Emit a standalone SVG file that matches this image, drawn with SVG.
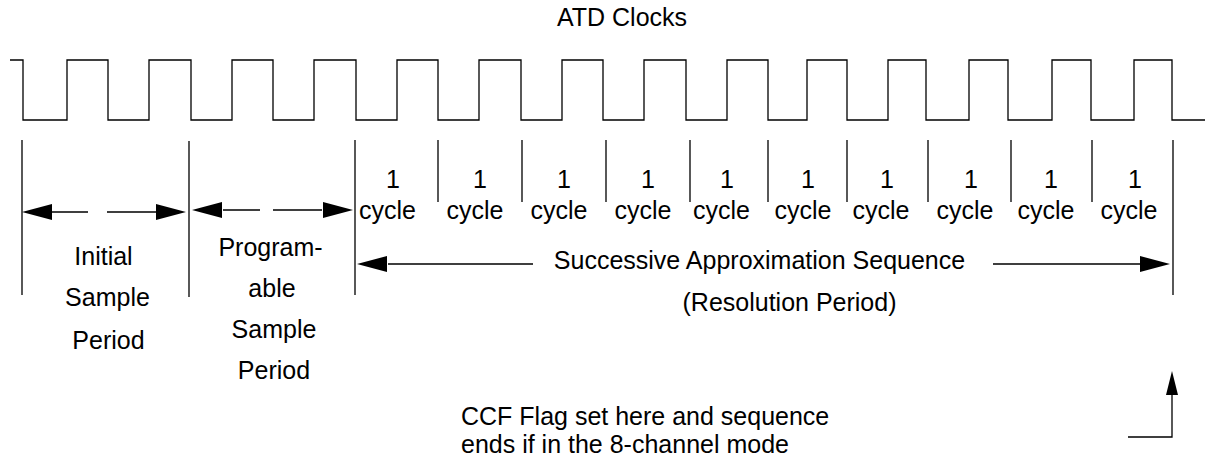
<svg xmlns="http://www.w3.org/2000/svg" width="1207" height="466" viewBox="0 0 1207 466">
<style>
.ln{stroke:#000;stroke-width:1.3;fill:none}
.t{font-family:"Liberation Sans",Arial,sans-serif;font-size:25px;fill:#000}
.m{text-anchor:middle}
.ah{fill:#000;stroke:none}
</style>
<rect width="1207" height="466" fill="#fff"/>
<text class="t m" x="622" y="26">ATD Clocks</text>
<g id="clock">
<path class="ln" d="M10,60 H23 V120 H67 V60 H108 V120 H149 V60 H191 V120 H232 V60 H273 V120 H314 V60 H356 V120 H397 V60 H438 V120 H479 V60 H521 V120 H562 V60 H603 V120 H644 V60 H686 V120 H727 V60 H768 V120 H807 V60 H847 V120 H888 V60 H926 V120 H969 V60 H1008 V120 H1052 V60 H1091 V120 H1134 V60 H1172 V120 H1205"/>
</g>
<g id="markers">
<path class="ln" d="M22,140 V295 M189,141 V297 M355,140 V295 M1173,140 V295"/>
<path class="ln" d="M438,140 V202 M522,140 V202 M606,140 V202 M690,140 V202 M768,140 V202 M847,140 V202 M928,140 V202 M1011,140 V202 M1092,140 V202"/>
</g>
<g id="connectors">
<path class="ln" d="M52,212 H88 M107,212 H157"/>
<polygon class="ah" points="22,212 52,204 52,220"/>
<polygon class="ah" points="186,212 156,204 156,220"/>
<path class="ln" d="M223,210 H260 M273,210 H322"/>
<polygon class="ah" points="192,210 222,202 222,218"/>
<polygon class="ah" points="353,210 323,202 323,218"/>
<path class="ln" d="M388,264 H533 M993,264 H1140"/>
<polygon class="ah" points="357,264 387,256 387,272"/>
<polygon class="ah" points="1170,264 1140,256 1140,272"/>
<path class="ln" d="M1128,437 H1172 V394"/>
<polygon class="ah" points="1172,371 1166,395 1178,395"/>
</g>
<g id="cycles">
<text class="t m" x="393" y="188">1</text><text class="t m" x="387.5" y="219">cycle</text>
<text class="t m" x="480" y="188">1</text><text class="t m" x="475" y="219">cycle</text>
<text class="t m" x="564" y="188">1</text><text class="t m" x="559" y="219">cycle</text>
<text class="t m" x="648" y="188">1</text><text class="t m" x="643" y="219">cycle</text>
<text class="t m" x="727" y="188">1</text><text class="t m" x="721.5" y="219">cycle</text>
<text class="t m" x="808" y="188">1</text><text class="t m" x="803" y="219">cycle</text>
<text class="t m" x="887" y="188">1</text><text class="t m" x="881" y="219">cycle</text>
<text class="t m" x="971" y="188">1</text><text class="t m" x="965" y="219">cycle</text>
<text class="t m" x="1051" y="188">1</text><text class="t m" x="1046" y="219">cycle</text>
<text class="t m" x="1135" y="188">1</text><text class="t m" x="1129" y="219">cycle</text>
</g>
<g id="initial">
<text class="t m" x="103.5" y="265">Initial</text>
<text class="t m" x="107.5" y="306">Sample</text>
<text class="t m" x="108.5" y="349">Period</text>
</g>
<g id="programable">
<text class="t m" x="270.5" y="256">Program-</text>
<text class="t m" x="272" y="297">able</text>
<text class="t m" x="274" y="338">Sample</text>
<text class="t m" x="274" y="379">Period</text>
</g>
<g id="sequence">
<text class="t m" x="759.5" y="269">Successive Approximation Sequence</text>
<text class="t m" x="789.5" y="311">(Resolution Period)</text>
</g>
<g id="ccf">
<text class="t" x="461" y="425">CCF Flag set here and sequence</text>
<text class="t" x="461" y="453">ends if in the 8-channel mode</text>
</g>
</svg>
